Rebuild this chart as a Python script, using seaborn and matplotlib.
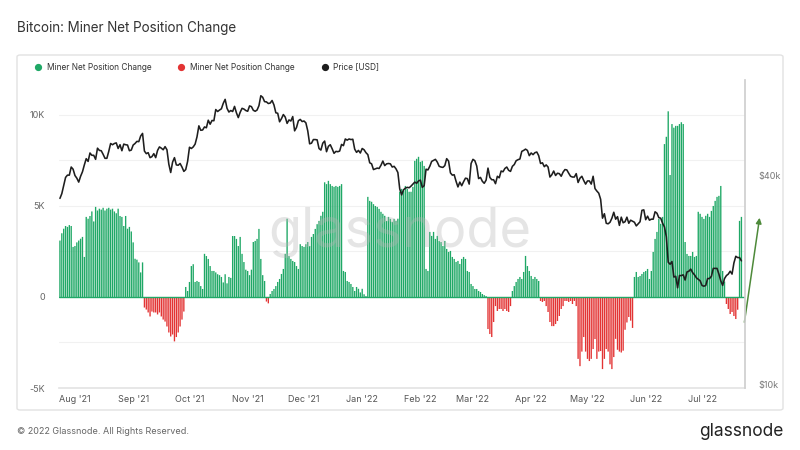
import matplotlib
matplotlib.use("Agg")
import matplotlib.pyplot as plt
import matplotlib.dates as mdates
from matplotlib.patches import FancyBboxPatch
from matplotlib.lines import Line2D
import numpy as np
import pandas as pd
import seaborn as sns

START = "2021-07-24"

# Miner net position change (BTC), daily in segments
seg_aug = [3100, 3500, 3750, 3900, 3850, 3950, 3900,
           2750, 2800, 3000, 3100, 3200, 3300, 2200,
           4400, 4300, 4450, 4700, 4150, 4950, 4750, 4850,
           4800, 4900, 4750, 4850, 4900, 4800, 4850, 4700, 4600, 4850, 4450,
           4400, 3900, 4450, 3750, 3850, 3600, 3000,
           2100, 2050, 1900, 1350, 1900]
seg_sep = [-580, -690, -850, -1070, -800, -850, -850, -960, -850, -1070, -1240,
           -1350, -1620, -1950, -2170, -2060, -2440, -2200, -1950, -1620, -1240, -800]
seg_oct = [550, 330, 825,
           1700, 1800, 825, 880, 825, 600, 440,
           2370, 2250, 2090, 1700, 1430, 1430,
           1350, 1250, 1200, 1100, 800, 1250, 750, 1100, 1050,
           3350, 3350, 3190, 2800, 3300,
           2370, 1920, 1500, 1430, 1200, 1500,
           3020, 3080, 3190, 3740,
           2090, 1200, 880]
seg_nov_dip = [-250, -350]
seg_nov = [165, 330, 440, 600, 825, 990, 1265, 1540,
           2370, 4300, 2250, 2090, 1980, 1920, 1700, 1540,
           2900, 2800, 2750, 2900, 3020, 2800, 3300, 3460, 3740, 4000, 4180, 4460, 4680,
           6300, 6200, 6380, 6200, 6100, 6050, 6100, 6050, 6100, 6200,
           1430, 1375, 880, 825, 715, 550, 330,
           550, 450, 250, 450, 150, 50,
           5500, 5280, 5230, 5100, 5000, 4950, 4840, 4680, 4570, 4460, 4180, 4400,
           4290, 4130, 4290, 4180, 4300,
           5780, 5940, 5830, 6100, 5940, 5780, 5780, 6050,
           7480, 7590, 7700, 7425, 7480, 7200,
           1540, 1430,
           3575, 3355, 3575, 3190, 3355, 3080, 3020, 2800, 3080, 2640, 2475, 2530,
           2200, 2090, 1925, 1980, 1815, 2090, 2200, 2090, 1430,
           1375, 715, 600, 440, 440, 330, 275, 165, 100, 50]
seg_mar = [-1760, -2035, -2200, -1375, -500, -770, -660, -660, -770, -660, -770, -825, -500]
seg_apr = [330, 600, 825, 990, 1100, 990, 1375, 2255, 1700, 1430, 1155, 990, 1100, 990, 880]
seg_may = [-220, -275, -220, -500, -825, -1375, -1600, -1600, -1485, -1320, -1045, -660,
           -500, -220, -220, -275, -220, -385, -220, -500,
           -3400, -3800, -3000, -2200, -3000, -3400, -3520, -3400, -2860, -2310,
           -3400, -3000, -2970, -3960, -3400, -2860, -3000, -3700, -3960, -3300,
           -2300, -2900, -3000, -3050, -2950, -1800, -1400, -1100, -1300, -1700]
seg_jun = [1100, 1375, 1100, 1155, 1265, 1375, 1430, 1540, 990, 1430, 2475, 3190, 3575,
           4290, 4020, 4400,
           8400, 8800, 10200, 6700, 9500, 9300, 9400, 9400, 9500, 9600, 9500,
           3020, 2365, 2255, 2255, 2475, 2200, 2255,
           4680, 4570, 4400, 4290, 4460, 4570, 4400,
           4730, 5000, 5280, 5500, 5555, 6100,
           1430, 850]
seg_jul = [-385, -660, -935, -825, -1045, -1210, -700, 4180, 4400]

net_change = (seg_aug + seg_sep + seg_oct + seg_nov_dip + seg_nov + seg_mar
              + seg_apr + seg_may + seg_jun + seg_jul)

# BTC price [USD], thousands, daily
price_k = [
    34.3, 35.4, 37.3, 39.4, 40.0, 40.0, 42.2, 41.6,
    39.9, 39.2, 38.2, 39.7, 40.9, 42.8, 44.6, 43.8, 46.3, 45.6, 45.6, 44.4, 47.8, 47.1, 47.0, 45.9,
    44.7, 44.7, 46.8, 49.3, 48.9, 49.3, 49.5, 47.7, 48.9, 47.0, 49.1, 48.9, 48.8, 47.0, 47.2,
    48.8, 49.3, 50.0, 49.9, 51.8, 52.7, 46.9, 46.1, 46.4, 44.9, 45.2, 46.1, 44.9, 47.1, 48.2,
    47.8, 47.3, 48.3, 47.3, 43.0, 40.7, 43.6, 44.9, 42.8, 42.7, 43.2, 42.2, 41.0, 41.5, 43.8,
    48.1, 47.7, 48.2, 49.1, 51.5, 55.4, 53.8, 53.9, 55.0, 54.7, 57.5, 56.0, 57.4, 57.3, 61.7,
    60.9, 61.5, 62.0, 64.3, 66.0, 62.2, 60.7, 61.3, 60.9, 63.0, 60.4, 58.5, 60.6, 62.2, 61.9, 61.3,
    61.0, 63.2, 62.9, 61.4, 61.0, 61.5, 63.3, 67.6, 66.9, 65.0, 64.9, 64.2, 64.4, 65.5, 63.6,
    60.4, 60.2, 56.9, 58.1, 59.7, 58.7, 56.3, 57.6, 57.2, 58.9, 53.6, 54.8, 57.3, 57.8, 57.0,
    57.2, 56.5, 53.6, 49.2, 49.4, 50.6, 50.6, 50.5, 47.7, 47.2, 49.4, 50.1, 46.7, 48.4, 48.9,
    47.6, 46.2, 46.8, 46.7, 46.9, 49.0, 48.6, 50.8, 50.4, 50.8, 50.6, 50.7, 47.5, 46.5, 47.1, 46.3,
    47.7, 47.3, 46.4, 45.8, 43.4, 43.1, 41.5, 41.7, 41.9, 41.8, 42.7, 43.9, 42.6, 43.1, 43.2,
    43.1, 42.2, 42.4, 41.7, 40.7, 36.5, 35.1, 36.3, 36.7, 36.9, 36.8, 37.2, 37.7, 38.2, 37.9, 38.5,
    38.7, 36.9, 37.3, 41.6, 41.4, 42.4, 43.8, 44.1, 44.4, 43.6, 42.4, 42.2, 42.1, 42.6, 44.6,
    43.9, 40.6, 40.0, 40.1, 38.4, 37.0, 38.2, 37.3, 38.3, 39.2, 39.1, 37.7, 43.2,
    44.4, 44.0, 42.5, 39.1, 39.4, 38.4, 37.9, 38.7, 41.9, 39.4, 38.8, 38.8, 37.8, 39.7, 39.3,
    41.1, 40.9, 41.8, 42.2, 41.3, 41.0, 42.4, 42.9, 44.0, 44.3, 44.5, 46.8, 47.1, 47.5, 47.1, 45.5,
    46.3, 45.8, 46.4, 46.6, 45.5, 43.2, 43.4, 42.3, 42.8, 42.2, 39.5, 40.1, 41.1, 39.9, 40.5,
    40.4, 39.7, 40.8, 41.5, 41.4, 40.5, 39.7, 39.5, 39.5, 40.4, 38.1, 39.2, 39.7, 38.6, 37.7,
    38.5, 38.5, 37.7, 39.7, 36.6, 36.0, 35.5, 34.1, 30.1, 31.0, 29.1, 29.0, 29.3, 30.1, 31.3,
    29.9, 30.4, 28.7, 30.3, 29.2, 29.4, 30.3, 29.1, 29.7, 29.5, 29.3, 28.6, 29.0, 29.4, 31.7, 31.8,
    29.8, 30.5, 29.7, 29.9, 29.9, 31.4, 31.1, 30.2, 30.1, 29.1, 28.4, 26.6, 22.5, 22.2, 22.6,
    20.4, 20.5, 19.0, 20.6, 20.6, 20.7, 20.0, 21.1, 21.2, 21.5, 21.0, 20.7, 20.3, 20.1, 19.9,
    19.3, 19.2, 19.3, 20.2, 20.2, 20.5, 21.6, 21.6, 21.6, 20.8, 19.9, 19.3, 20.2, 20.6, 20.8,
    21.2, 20.8, 22.4, 23.4, 23.2, 23.2, 22.7,
]

left_ticks = [-5000, 0, 5000, 10000]
left_labels = ["-5K", "0", "5K", "10K"]
right_ticks = [10000, 40000]
right_labels = ["$10k", "$40k"]

GREEN = "#1fa866"
RED = "#e33434"
BLACK = "#1e1e1e"


def main():
    sns.set_theme(style="white")
    plt.rcParams["font.family"] = ["Inter", "DejaVu Sans"]

    bars = pd.DataFrame({
        "date": pd.date_range(START, periods=len(net_change), freq="D"),
        "value": net_change,
    })
    price = pd.DataFrame({
        "date": pd.date_range(START, periods=len(price_k), freq="D"),
        "usd": np.array(price_k) * 1000,
    })

    fig = plt.figure(figsize=(8, 4.5), dpi=100)
    fig.patch.set_facecolor("white")

    # chart frame
    frame = FancyBboxPatch((17 / 800, 40 / 450), 766 / 800, 355 / 450,
                           boxstyle="round,pad=0,rounding_size=0.004",
                           transform=fig.transFigure, facecolor="none",
                           edgecolor="#e2e2e2", linewidth=1.0, zorder=-10)
    fig.patches.append(frame)

    ax = fig.add_axes([59 / 800, 62 / 450, 686 / 800, 308 / 450])
    ax.set_facecolor("none")

    pos = bars[bars["value"] >= 0]
    neg = bars[bars["value"] < 0]
    ax.bar(pos["date"], pos["value"], width=0.72, color=GREEN, edgecolor="none",
           linewidth=0, snap=False, zorder=2)
    ax.bar(neg["date"], neg["value"], width=0.72, color=RED, edgecolor="none",
           linewidth=0, snap=False, zorder=2)
    ax.axhline(0, color=GREEN, lw=1.0, zorder=3)

    ax.set_ylim(-5000, 11920)
    ax.set_xlim(pd.Timestamp(START) - pd.Timedelta(days=0.5),
                pd.Timestamp(START) + pd.Timedelta(days=364.9))
    ax.set_yticks(left_ticks)
    ax.set_yticklabels(left_labels)
    for g in [-2500, 2500, 5000, 7500, 10000]:
        ax.axhline(g, color="#f1f1f1", lw=0.8, zorder=0)

    ax.xaxis.set_major_locator(mdates.MonthLocator())
    ax.xaxis.set_major_formatter(mdates.DateFormatter("%b '%y"))
    ax.tick_params(axis="x", length=0, pad=5, labelsize=6.5, labelcolor="#555555")
    ax.tick_params(axis="y", length=0, pad=10, labelsize=6.5, labelcolor="#666666")

    for side in ["top", "left", "right"]:
        ax.spines[side].set_visible(False)
    ax.spines["bottom"].set_color("#e4e4e4")

    ax2 = ax.twinx()
    sns.lineplot(data=price, x="date", y="usd", ax=ax2, color=BLACK, lw=1.15, zorder=4)
    ax2.set_yscale("log")
    ax2.set_ylim(9800, 75000)
    ax2.set_yticks(right_ticks)
    ax2.set_yticklabels(right_labels)
    ax2.yaxis.set_minor_locator(matplotlib.ticker.NullLocator())
    ax2.set_ylabel("")
    ax2.set_xlabel("")
    ax.set_xlabel("")
    ax2.tick_params(axis="y", length=0, pad=10, labelsize=6.5, labelcolor="#777777")
    for side in ["top", "left", "bottom"]:
        ax2.spines[side].set_visible(False)
    ax2.spines["right"].set_color("#cfcfcf")
    ax2.grid(False)

    # legend
    handles = [
        Line2D([], [], marker="o", ls="", color=GREEN, markersize=4.2),
        Line2D([], [], marker="o", ls="", color=RED, markersize=4.2),
        Line2D([], [], marker="o", ls="", color=BLACK, markersize=4.2),
    ]
    fig.legend(handles, ["Miner Net Position Change", "Miner Net Position Change", "Price [USD]"],
               loc="center left", bbox_to_anchor=(22 / 800, 1 - 67 / 450), ncol=3,
               frameon=False, fontsize=6, handletextpad=0.05, columnspacing=2.6,
               labelcolor="#333333")

    # watermark
    fig.text(400 / 800, 1 - 232 / 450, "glassnode", ha="center", va="center",
             fontsize=39, color="#b5b5b5", alpha=0.35, zorder=10)

    # annotation arrow
    ax.annotate("", xy=(760, 450 - 215), xytext=(744, 450 - 325),
                xycoords="figure pixels", textcoords="figure pixels",
                arrowprops=dict(arrowstyle="-|>", color="#4e8a3a", lw=1.1,
                                mutation_scale=8),
                annotation_clip=False)

    fig.text(17 / 800, 1 - 28 / 450, "Bitcoin: Miner Net Position Change",
             ha="left", va="center", fontsize=9.7, color="#333333")
    fig.text(17 / 800, 1 - 432 / 450, "\u00a9 2022 Glassnode. All Rights Reserved.",
             ha="left", va="center", fontsize=6.5, color="#666666")
    fig.text(783 / 800, 1 - 431 / 450, "glassnode", ha="right", va="center",
             fontsize=12.5, color="#222222")

    fig.savefig("out.png", dpi=100)


if __name__ == "__main__":
    main()
